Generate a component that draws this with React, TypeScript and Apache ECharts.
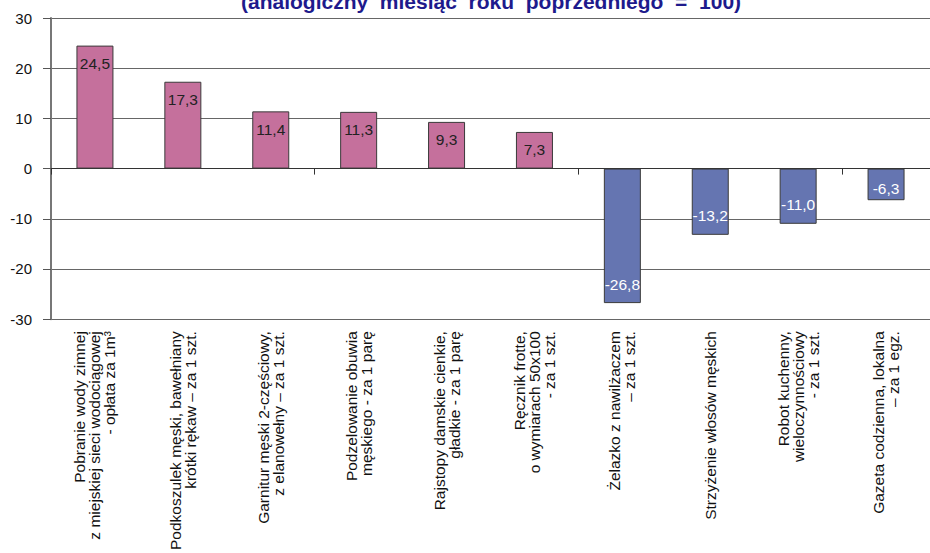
import React, { useEffect, useRef } from "react";
import * as echarts from "echarts";

const titleText = "(analogiczny  miesiąc  roku  poprzedniego  =  100)";

const categories = [
  "Pobranie wody zimnej\nz miejskiej sieci wodociągowej\n- opłata za 1m³",
  "Podkoszulek męski, bawełniany\nkrótki rękaw – za 1 szt.",
  "Garnitur męski 2-częściowy,\nz elanowełny – za 1 szt.",
  "Podzelowanie obuwia\nmęskiego - za 1 parę",
  "Rajstopy damskie cienkie,\ngładkie - za 1 parę",
  "Ręcznik frotte,\no wymiarach 50x100\n- za 1 szt.",
  "Żelazko z nawilżaczem\n– za 1 szt.",
  "Strzyżenie włosów męskich",
  "Robot kuchenny,\nwieloczynnościowy\n- za 1 szt.",
  "Gazeta codzienna, lokalna\n– za 1 egz.",
];

const values = [24.5, 17.3, 11.4, 11.3, 9.3, 7.3, -26.8, -13.2, -11.0, -6.3];

const yTicks = [-30, -20, -10, 0, 10, 20, 30];

const POS_COLOR = "#C5709C";
const NEG_COLOR = "#6575B1";
const FONT = "'Liberation Sans', Arial, sans-serif";

export default function App() {
  const ref = useRef<HTMLDivElement>(null);

  useEffect(() => {
    document.body.style.margin = "0";
    if (!ref.current) return;
    const chart = echarts.init(ref.current, null, { renderer: "svg" });
    const fmt = (v: number) => v.toFixed(1).replace(".", ",");
    chart.setOption({
      animation: false,
      backgroundColor: "#ffffff",
      textStyle: { fontFamily: FONT },
      graphic: [
        {
          type: "text",
          left: 241,
          top: -9,
          style: {
            text: titleText,
            fill: "#1E1A8C",
            font: `bold 21px ${FONT}`,
          },
        },
      ],
      grid: { left: 51, top: 18, width: 888, height: 305, containLabel: false },
      xAxis: [
        {
          type: "category",
          data: categories,
          position: "bottom",
          axisLine: { show: true, onZero: true, lineStyle: { color: "#333", width: 1 } },
          axisTick: { show: true, length: 6, inside: false, lineStyle: { color: "#333" } },
          axisLabel: { show: false },
          splitLine: { show: false },
        },
        {
          type: "category",
          data: categories,
          position: "bottom",
          axisLine: { show: false, onZero: false },
          axisTick: { show: false },
          splitLine: { show: false },
          axisLabel: {
            show: true,
            interval: 0,
            rotate: 90,
            margin: 12,
            fontSize: 15.5,
            lineHeight: 15,
            color: "#111",
            fontFamily: FONT,
          },
        },
      ],
      yAxis: {
        type: "value",
        min: -30,
        max: 30,
        interval: 10,
        axisLine: { show: true, lineStyle: { color: "#777", width: 2 } },
        axisTick: { show: true, length: 8, lineStyle: { color: "#555" } },
        axisLabel: {
          margin: 19,
          fontSize: 15,
          color: "#111",
          fontFamily: FONT,
          formatter: (v: number) => (yTicks.includes(v) ? String(v) : ""),
        },
        splitLine: { show: true, lineStyle: { color: "#666", width: 1 } },
      },
      series: [
        {
          type: "bar",
          xAxisIndex: 0,
          barWidth: 37,
          data: values.map((v) => ({
            value: v,
            itemStyle: {
              color: v >= 0 ? POS_COLOR : NEG_COLOR,
              borderColor: "#3a3a3a",
              borderWidth: 1,
            },
            label: {
              show: true,
              position: v >= 0 ? "insideTop" : "insideBottom",
              distance: v >= 0 ? 10 : Math.abs(v) < 8 ? 4 : 11,
              color: v >= 0 ? "#222" : "#ffffff",
              fontSize: 15.5,
              fontFamily: FONT,
              formatter: () => fmt(v),
            },
          })),
        },
      ],
    });
    return () => chart.dispose();
  }, []);

  return <div ref={ref} style={{ width: 930, height: 553 }} />;
}
